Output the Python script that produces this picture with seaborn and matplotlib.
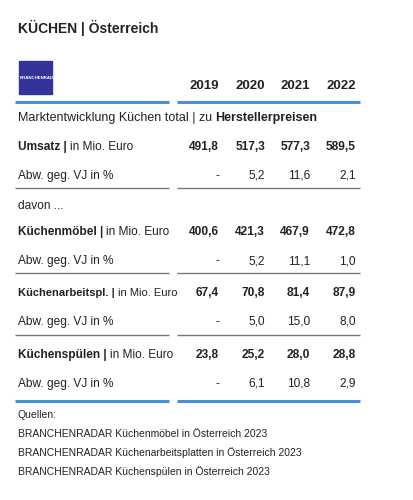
import matplotlib
matplotlib.use("Agg")
import matplotlib.pyplot as plt
import seaborn as sns

sns.set_theme(style="white")
plt.rcParams['font.family'] = ['Liberation Sans Narrow', 'Liberation Sans', 'DejaVu Sans']

title = "KÜCHEN | Österreich"
years = ["2019", "2020", "2021", "2022"]
subtitle_normal = "Marktentwicklung Küchen total | zu "
subtitle_bold = "Herstellerpreisen"
row_names = ["Umsatz", "Küchenmöbel", "Küchenarbeitspl.", "Küchenspülen"]
values = [["491,8", "517,3", "577,3", "589,5"],
          ["400,6", "421,3", "467,9", "472,8"],
          ["67,4", "70,8", "81,4", "87,9"],
          ["23,8", "25,2", "28,0", "28,8"]]
changes = [["-", "5,2", "11,6", "2,1"],
           ["-", "5,2", "11,1", "1,0"],
           ["-", "5,0", "15,0", "8,0"],
           ["-", "6,1", "10,8", "2,9"]]
sources = ["BRANCHENRADAR Küchenmöbel in Österreich 2023",
           "BRANCHENRADAR Küchenarbeitsplatten in Österreich 2023",
           "BRANCHENRADAR Küchenspülen in Österreich 2023"]

fig = plt.figure(figsize=(4.13, 5.0), dpi=100)
ax = fig.add_axes([0, 0, 1, 1])
ax.set_xlim(0, 413)
ax.set_ylim(500, 0)
ax.axis("off")

txt = "#222222"
blue = "#4a90d9"
gray = "#777777"
fs = 8.6

ax.text(18, 28, title, fontsize=10, fontweight="bold", color=txt, va="center")
ax.add_patch(plt.Rectangle((19, 61), 33, 33, color="#33339a"))
ax.text(20, 78, "BRANCHENRADAR", fontsize=3.2, color="white", fontweight="bold", va="center")

col_x = [219, 265, 310, 356]
for x, y in zip(col_x, years):
    ax.text(x, 86, y, fontsize=9.5, fontweight="bold", color=txt, ha="right", va="center")

def hline(y, color, lw):
    ax.plot([15, 169], [y, y], color=color, lw=lw, solid_capstyle="butt")
    ax.plot([177, 360], [y, y], color=color, lw=lw, solid_capstyle="butt")

hline(102, blue, 2.2)
t = ax.text(18, 118, subtitle_normal, fontsize=fs + 0.4, color=txt, va="center")
fig.canvas.draw()
bb = t.get_window_extent().transformed(ax.transData.inverted())
ax.text(bb.x1, 118, subtitle_bold, fontsize=fs + 0.4, color=txt, va="center", fontweight="bold")

row_y = [147, 232, 293, 355]
line_y = [188, 273, 335, 401]
for i, (name, y) in enumerate(zip(row_names, row_y)):
    lfs = 8.0 if i == 2 else fs
    t = ax.text(18, y, name + " | ", fontsize=lfs, fontweight="bold", color=txt, va="center")
    fig.canvas.draw()
    bb = t.get_window_extent().transformed(ax.transData.inverted())
    ax.text(bb.x1, y, "in Mio. Euro", fontsize=lfs, color=txt, va="center")
    for x, v in zip(col_x, values[i]):
        ax.text(x, y, v, fontsize=fs, fontweight="bold", color=txt, ha="right", va="center")
    y2 = y + 29
    ax.text(18, y2, "Abw. geg. VJ in %", fontsize=fs, color=txt, va="center")
    for x, v in zip(col_x, changes[i]):
        ax.text(x, y2, v, fontsize=fs, color=txt, ha="right", va="center")
    hline(line_y[i], blue if i == 3 else gray, 2.2 if i == 3 else 1.0)

ax.text(18, 206, "davon ...", fontsize=fs, color=txt, va="center")
ax.text(18, 415, "Quellen:", fontsize=7.5, color=txt, va="center")
for k, s in enumerate(sources):
    ax.text(18, 434 + 19 * k, s, fontsize=7.5, color=txt, va="center")

fig.savefig("out.png", dpi=100)
